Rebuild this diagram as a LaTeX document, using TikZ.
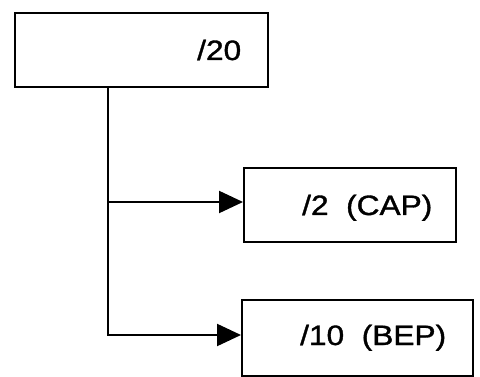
\documentclass[tikz,border=0pt]{standalone}
\usepackage{graphicx}
\usepackage{fontspec}
\setmainfont{Liberation Sans}
\newfontfamily\lblfont[FakeBold=1.2]{Liberation Sans}
\usetikzlibrary{arrows.meta}
\begin{document}
\begin{tikzpicture}[x=1pt,y=-1pt,
  box/.style={draw,line width=2.2pt,inner sep=0pt,anchor=north west},
  lbl/.style={anchor=base west,inner sep=0pt,font=\lblfont\fontsize{28}{30}\selectfont},
  conn/.style={line width=2.2pt,-{Triangle[length=24pt,width=22pt]}}]
\useasboundingbox (0,0) rectangle (480,377);
\node[box,minimum width=253pt,minimum height=74pt] (top) at (14,12) {};
\node[box,minimum width=212pt,minimum height=74pt] (cap) at (243,167) {};
\node[box,minimum width=231pt,minimum height=76pt] (bep) at (241,299) {};
\node[lbl] (t20) at (197,60) {\scalebox{1.13}[1]{/20}};
\node[lbl] (tcap) at (302,215) {\scalebox{1.13}[1]{/2\ \ (CAP)}};
\node[lbl] (tbep) at (300,345) {\scalebox{1.13}[1]{/10\ \ (BEP)}};
\coordinate (trunk) at (108,86);
\coordinate (br1) at (108,202);
\coordinate (br2) at (108,335);
\draw[conn] (top.south -| trunk) -- (br2) -- (br2 -| bep.west);
\draw[conn] (br1) -- (br1 -| cap.west);
\end{tikzpicture}
\end{document}
